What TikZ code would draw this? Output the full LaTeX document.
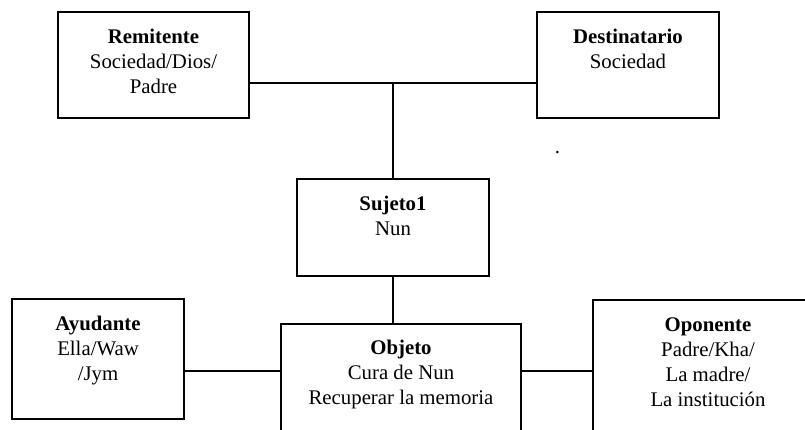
\documentclass[tikz,border=0pt]{standalone}
\usepackage{fontspec}
\setmainfont{Liberation Serif}
\tikzset{
  box/.style={draw=black, line width=2pt, inner sep=0pt, rectangle},
  lbl/.style={anchor=north, inner sep=0pt, align=center, font=\fontsize{20.8}{25}\selectfont, yshift=-17.5pt},
  link/.style={draw=black, line width=1.6pt}
}
\begin{document}
\begin{tikzpicture}[x=1pt, y=-1pt]
\useasboundingbox (0,0) rectangle (805,430);
\clip (0,0) rectangle (805,430);
% boxes
\node[box, minimum width=191pt, minimum height=106pt] (rem) at (153.5,65) {};
\node[box, minimum width=182pt, minimum height=106pt] (des) at (628,65) {};
\node[box, minimum width=192pt, minimum height=97pt] (suj) at (393,227.5) {};
\node[box, minimum width=172pt, minimum height=120pt] (ayu) at (98,359) {};
\node[box, minimum width=240pt, minimum height=116pt] (obj) at (401,382) {};
\node[box, minimum width=230pt, minimum height=140pt] (opo) at (708,370) {};
% texts
\node[lbl] (remt) at (rem.north) {\textbf{Remitente}\\Sociedad/Dios/\\Padre};
\node[lbl] (dest) at (des.north) {\textbf{Destinatario}\\Sociedad};
\node[lbl] (sujt) at (suj.north) {\textbf{Sujeto1}\\Nun};
\node[lbl] (ayut) at (ayu.north) {\textbf{Ayudante}\vphantom{b}\\Ella/Waw\\/Jym};
\node[lbl, yshift=1pt] (objt) at (obj.north) {\textbf{Objeto}\\Cura de Nun\\Recuperar la memoria};
\node[lbl] (opot) at (opo.north) {\textbf{Oponente}\vphantom{b}\\Padre/Kha/\\La madre/\\La institución};
\node[anchor=base, inner sep=0pt, font=\fontsize{20.8}{25}\selectfont] (dot) at (557.5,154) {.};
% connectors
\coordinate (jt) at (393,83);
\coordinate (jb) at (401,371);
\draw[link] (jt -| rem.east) -- (jt -| des.west);
\draw[link] (jt) -- (suj.north);
\draw[link] (suj.south) -- (suj.south |- obj.north);
\draw[link] (jb -| ayu.east) -- (jb -| obj.west);
\draw[link] (jb -| obj.east) -- (jb -| opo.west);
\end{tikzpicture}
\end{document}
